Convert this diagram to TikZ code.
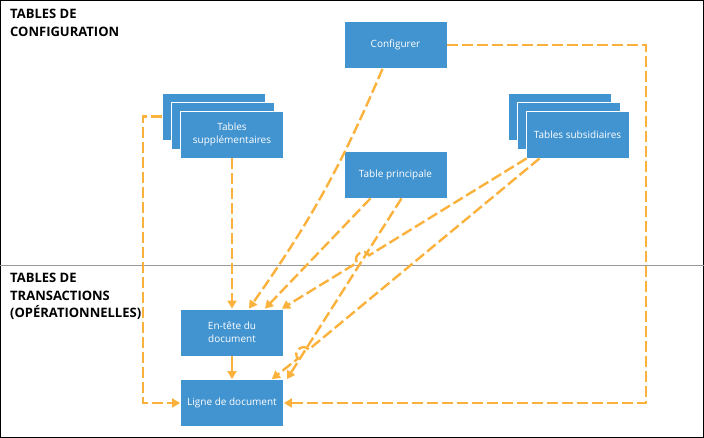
\documentclass[tikz,border=0pt]{standalone}
\usepackage{fontspec}
\setmainfont{Open Sans}
\usetikzlibrary{arrows.meta,positioning}
\definecolor{boxblue}{RGB}{66,148,208}
\definecolor{linkorange}{RGB}{251,178,61}

\begin{document}
\begin{tikzpicture}[x=1pt, y=-1pt,
    box/.style={rectangle, draw=white, line width=0.8pt, fill=boxblue, text=white, minimum width=103pt, minimum height=47pt, inner sep=2pt, align=center, font=\fontsize{10}{13}\selectfont},
    head/.style={anchor=north west, inner sep=0pt, align=left, font=\bfseries\fontsize{13}{17.5}\selectfont},
    link/.style={linkorange, line width=2.4pt, dash pattern=on 11pt off 4pt, ->, >={Triangle[length=8pt,width=9pt]}}
]
\useasboundingbox (0,0) rectangle (704,438);
\draw[black, line width=1pt] (0.5,0.5) rectangle (703.5,437.5);
\draw[gray!80, line width=1pt] (0,266) -- (704,266);
\node[head] (cfg) at (10,9) {TABLES DE\\CONFIGURATION};
\node[head] (trs) at (10,273) {TABLES DE\\TRANSACTIONS\\(OPÉRATIONNELLES)};
\node[box] (config) at (395.5,45) {Configurer};
\node[box] (princ) at (395.5,174.5) {Table principale};
\node[box] (supp1) at (214,116.5) {};
\node[box] (supp2) at (223,125.5) {};
\node[box] (supp3) at (232,134.5) {Tables\\supplémentaires};
\node[box] (subs1) at (559.5,116.5) {};
\node[box] (subs2) at (568.5,125.5) {};
\node[box] (subs3) at (577.5,134.5) {Tables subsidiaires};
\node[box] (entete) at (232,332.5) {En-tête du\\document};
\node[box] (ligne) at (232,403) {Ligne de document};
\coordinate (rc) at (646,45);
\coordinate (lc) at (143,116.5);
\coordinate (hopa) at (369.1,255.3);
\coordinate (hopb) at (357.1,262.7);
\coordinate (hopp) at (308.7,349.6);
\coordinate (hopq) at (297.9,358.6);
\draw[link] (supp3) -- (entete);
\draw[link, solid] (entete) -- (ligne);
\draw[link] ([xshift=-13pt]config.south) to[bend left=6] ([xshift=17pt]entete.north);
\draw[link] ([xshift=-25pt]princ.south) -- ([xshift=33pt]entete.north);
\draw[link] ([xshift=1pt]subs3.south west) -- (hopa) .. controls (364.4,247.6) and (352.4,255.0) .. (hopb) -- ([xshift=-2pt]entete.north east);
\draw[link] ([xshift=6pt]princ.south) -- ([xshift=3pt]ligne.north east);
\draw[link] ([xshift=14pt]subs3.south west) -- (hopp) .. controls (303.0,342.7) and (292.2,351.7) .. (hopq) -- ([xshift=-12pt]ligne.north east);
\draw[link] (config.east) -- (rc) |- (ligne.east);
\draw[link] (supp1.west) -- (lc) |- (ligne.west);
\end{tikzpicture}
\end{document}
